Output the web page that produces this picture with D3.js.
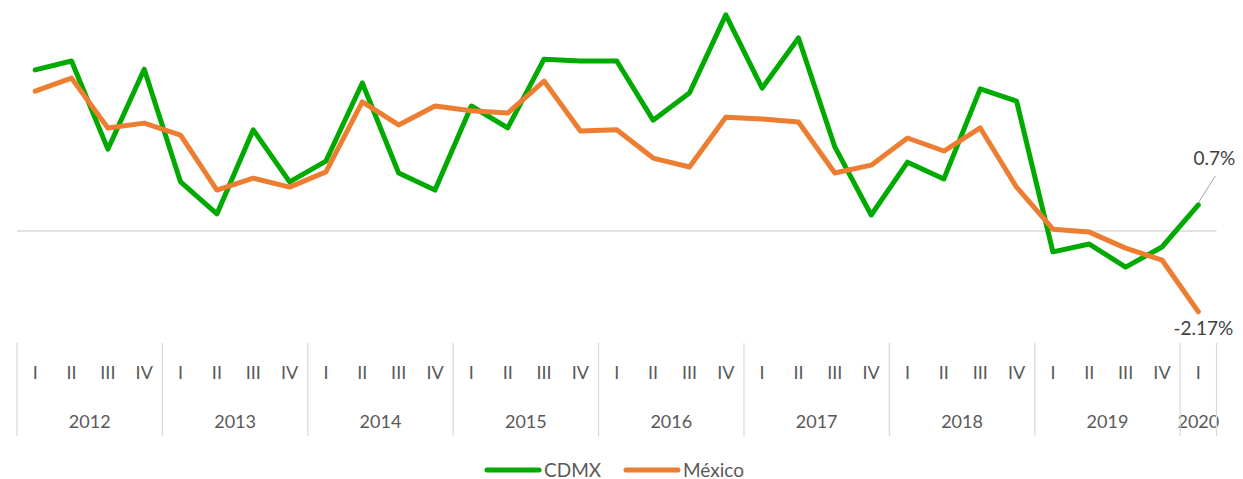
<!DOCTYPE html>
<html><head><meta charset="utf-8">
<script src="https://cdn.jsdelivr.net/npm/d3@7"></script>
<style>body{margin:0;background:#fff;} svg{display:block;} text{font-family:Lato,"Open Sans",sans-serif;}</style>
</head><body><svg id="c" width="1243" height="479"></svg>
<script>
const years = ["2012","2013","2014","2015","2016","2017","2018","2019","2020"];
const quarterNames = ["I","II","III","IV"];
const cdmx = [4.33,4.57,2.20,4.35,1.32,0.46,2.72,1.32,1.88,3.98,1.56,1.10,3.36,2.77,4.62,4.57,4.57,2.98,3.71,5.81,3.84,5.19,2.26,0.43,1.85,1.40,3.82,3.49,-0.56,-0.35,-0.97,-0.43,0.70];
const mexico = [3.76,4.11,2.77,2.90,2.58,1.10,1.42,1.18,1.59,3.47,2.85,3.36,3.23,3.17,4.03,2.69,2.72,1.96,1.72,3.06,3.01,2.93,1.56,1.77,2.50,2.15,2.77,1.18,0.05,-0.03,-0.46,-0.78,-2.17];
const seriesNames = ["CDMX","México"];
const colors = ["#00AA00","#ED7D31"];

const cats = [];
years.forEach(y => { const n = y === "2020" ? 1 : 4; for (let q=0;q<n;q++) cats.push({year:y, q:quarterNames[q], key:y+"-"+q}); });

const svg = d3.select("#c");
const x = d3.scaleBand().domain(cats.map(d=>d.key)).range([17, 1216.5]);
const y = d3.scaleLinear().domain([-2.5, 6]).range([231 + 2.5*37.2, 231 - 6*37.2]);
const cx = k => x(k) + x.bandwidth()/2;

// zero line
svg.append("line").attr("x1",17).attr("x2",1216.5).attr("y1",y(0)).attr("y2",y(0))
  .attr("stroke","#d9d9d9").attr("stroke-width",1.5);

// category axis
const gAx = svg.append("g");
cats.forEach(c => {
  gAx.append("text").attr("x", cx(c.key)).attr("y", 379).attr("text-anchor","middle")
    .attr("font-size",18).attr("fill","#595959").text(c.q);
});
const sepKeys = [];
years.forEach(yr => {
  const ks = cats.filter(c=>c.year===yr);
  const x0 = x(ks[0].key), x1 = x(ks[ks.length-1].key) + x.bandwidth();
  sepKeys.push(x0);
  gAx.append("text").attr("x",(x0+x1)/2).attr("y",428).attr("text-anchor","middle")
    .attr("font-size",18).attr("fill","#595959").text(yr);
});
sepKeys.push(x.range()[1]);
sepKeys.forEach(sx => gAx.append("line").attr("x1",sx).attr("x2",sx).attr("y1",343).attr("y2",436)
  .attr("stroke","#d9d9d9").attr("stroke-width",1.2));

// lines
const line = d3.line().x((d,i)=>cx(cats[i].key)).y(d=>y(d));
[cdmx, mexico].forEach((s,i) => {
  svg.append("path").datum(s).attr("d",line).attr("fill","none")
    .attr("stroke",colors[i]).attr("stroke-width",5).attr("stroke-linejoin","round").attr("stroke-linecap","round");
});

// data labels
const lastK = cats[cats.length-1].key;
const lx = cx(lastK);
svg.append("line").attr("x1",lx).attr("y1",y(cdmx[cdmx.length-1])-2).attr("x2",lx+17).attr("y2",y(cdmx[cdmx.length-1])-29)
  .attr("stroke","#a6a6a6").attr("stroke-width",1);
svg.append("text").attr("x",lx+16).attr("y",y(cdmx[cdmx.length-1])-40).attr("text-anchor","middle")
  .attr("font-size",19).attr("fill","#404040").text(cdmx[cdmx.length-1].toFixed(1)+"%");
svg.append("text").attr("x",lx+5).attr("y",y(mexico[mexico.length-1])+23).attr("text-anchor","middle")
  .attr("font-size",19).attr("fill","#404040").text(mexico[mexico.length-1].toFixed(2)+"%");

// legend
const leg = [{x:487},{x:626}];
seriesNames.forEach((n,i) => {
  svg.append("line").attr("x1",leg[i].x).attr("x2",leg[i].x+52).attr("y1",470).attr("y2",470)
    .attr("stroke",colors[i]).attr("stroke-width",5).attr("stroke-linecap","round");
  svg.append("text").attr("x",leg[i].x+57).attr("y",476.5).attr("font-size",19).attr("fill","#595959").text(n);
});
</script></body></html>
